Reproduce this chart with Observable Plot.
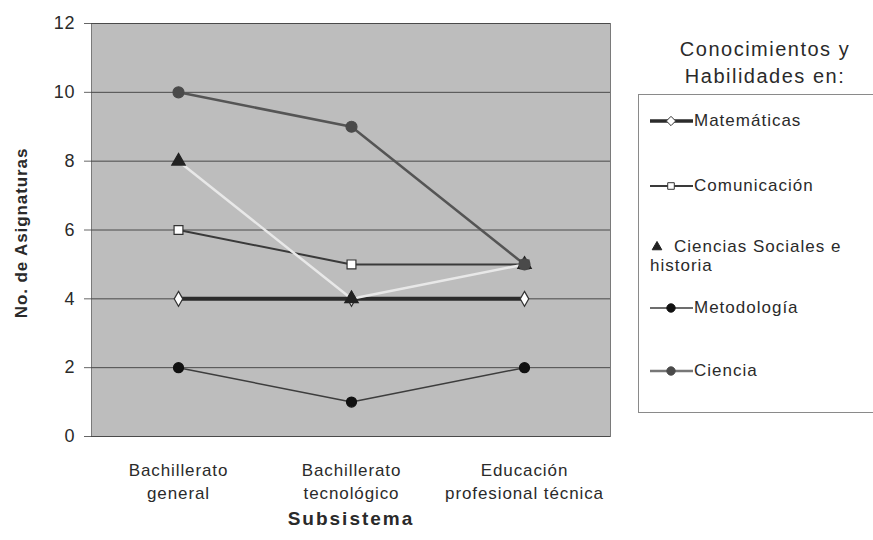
<!DOCTYPE html>
<html>
<head>
<meta charset="utf-8">
<script src="https://cdn.jsdelivr.net/npm/d3@7"></script>
<script src="https://cdn.jsdelivr.net/npm/@observablehq/plot@0.6"></script>
<style>
  html, body { margin: 0; padding: 0; background: #ffffff; }
  #wrap { position: relative; width: 873px; height: 540px; overflow: hidden; font-family: "Liberation Sans", Arial, sans-serif; color: #2a2a2a; }
  #chart svg text { letter-spacing: 0.9px; }
  #legend-title { position: absolute; left: 650px; top: 36px; width: 230px; text-align: center; font-size: 20px; line-height: 27px; letter-spacing: 1.5px; }
  #legend { position: absolute; left: 638px; top: 94px; width: 260px; height: 319px; border: 1px solid #8a8a8a; box-sizing: border-box; }
  .item { position: absolute; left: 11px; display: flex; align-items: center; font-size: 17px; line-height: 20px; letter-spacing: 1px; white-space: nowrap; }
  .item svg { flex: none; margin-right: 1px; }
</style>
</head>
<body>
<div id="wrap">
  <div id="chart"></div>
  <div id="legend-title">Conocimientos y<br>Habilidades en:</div>
  <div id="legend"></div>
</div>
<script>
const categories = ["Bachillerato\ngeneral", "Bachillerato\ntecnológico", "Educación\nprofesional técnica"];
const seriesNames = ["Matemáticas", "Comunicación", "Ciencias Sociales e historia", "Metodología", "Ciencia"];
const matematicas = [4, 4, 4];
const comunicacion = [6, 5, 5];
const cienciasSociales = [8, 4, 5];
const metodologia = [2, 1, 2];
const ciencia = [10, 9, 5];
const yTicks = [0, 2, 4, 6, 8, 10, 12];

const seriesValues = [matematicas, comunicacion, cienciasSociales, metodologia, ciencia];
const styles = [
  {line: "#2b2b2b", width: 4,   symbol: "diamond",  fill: "#ffffff", stroke: "#333333", r: 4.5},
  {line: "#3a3a3a", width: 2,   symbol: "square",   fill: "#ffffff", stroke: "#333333", r: 5},
  {line: "#e8e8e8", width: 2.5, symbol: "triangle", fill: "#222222", stroke: "#222222", r: 5},
  {line: "#3d3d3d", width: 1.5, symbol: "circle",   fill: "#111111", stroke: "#111111", r: 5},
  {line: "#555555", width: 2.5, symbol: "circle",   fill: "#4a4a4a", stroke: "#4a4a4a", r: 5.5}
];

const data = seriesNames.map((s, i) => categories.map((c, j) => ({series: s, cat: c, value: seriesValues[i][j]})));

const lineMarks = data.map((d, i) => Plot.line(d, {x: "cat", y: "value", stroke: styles[i].line, strokeWidth: styles[i].width}));
const dotMarks = data.map((d, i) => Plot.dot(d, {x: "cat", y: "value", symbol: () => styles[i].symbol, fill: styles[i].fill, stroke: styles[i].stroke, strokeWidth: 1.2, r: styles[i].r}));

const chart = Plot.plot({
  width: 873,
  height: 540,
  marginLeft: 91,
  marginRight: 263,
  marginTop: 23,
  marginBottom: 104,
  x: {domain: categories, type: "point", padding: 0.5, label: null},
  y: {domain: [0, 12], label: null},
  symbol: {type: "identity"},
  style: {fontFamily: "'Liberation Sans', Arial, sans-serif", fontSize: "17px", color: "#2a2a2a", background: "#ffffff"},
  marks: [
    Plot.frame({fill: "#bdbdbd", stroke: "#7a7a7a"}),
    Plot.gridY(yTicks, {stroke: "#4a4a4a", strokeOpacity: 1, strokeWidth: 1}),
    Plot.axisY(yTicks, {tickSize: 7, tickPadding: 9, fontSize: 18, stroke: "#666", label: null}),
    Plot.axisX({tickSize: 0, tickPadding: 23, fontSize: 17, lineHeight: 1.35, label: null}),
    ...lineMarks,
    ...dotMarks,
    Plot.text(["No. de Asignaturas"], {frameAnchor: "left", dx: -70, dy: 3, rotate: -90, textAnchor: "middle", lineAnchor: "middle", fontWeight: "bold", fontSize: 17}),
    Plot.text(["Subsistema"], {frameAnchor: "bottom", dy: 82, lineAnchor: "middle", fontWeight: "bold", fontSize: 19})
  ]
});
document.getElementById("chart").appendChild(chart);
d3.select(chart).selectAll("text").filter(function() { return this.textContent === "Subsistema"; }).style("letter-spacing", "2px");

// Legend
const legend = document.getElementById("legend");
const itemCenters = [26, 91, 162, 213, 276];
const ns = "http://www.w3.org/2000/svg";
seriesNames.forEach((name, i) => {
  const st = styles[i];
  const item = document.createElement("div");
  item.className = "item";
  const svg = document.createElementNS(ns, "svg");
  svg.setAttribute("width", 43);
  svg.setAttribute("height", 20);
  if (i !== 2) {
    const l = document.createElementNS(ns, "line");
    l.setAttribute("x1", 0); l.setAttribute("x2", 43); l.setAttribute("y1", 10); l.setAttribute("y2", 10);
    l.setAttribute("stroke", i === 4 ? "#777" : st.line);
    l.setAttribute("stroke-width", Math.min(st.width, 3.5));
    svg.appendChild(l);
  }
  const sym = d3.symbol().type({diamond: d3.symbolDiamond2, square: d3.symbolSquare2, triangle: d3.symbolTriangle, circle: d3.symbolCircle}[st.symbol]).size(st.symbol === "triangle" ? 40 : 55);
  const p = document.createElementNS(ns, "path");
  p.setAttribute("d", sym());
  p.setAttribute("transform", i === 2 ? "translate(7,10)" : "translate(21,10)");
  p.setAttribute("fill", st.fill);
  p.setAttribute("stroke", st.stroke);
  svg.appendChild(p);
  if (i === 2) {
    svg.setAttribute("width", 20);
    item.style.alignItems = "flex-start";
    item.appendChild(svg);
    const t = document.createElement("div");
    t.innerHTML = "<div style='padding-left:3px'>Ciencias Sociales e</div><div style='margin-left:-21px'>historia</div>";
    item.appendChild(t);
    item.style.top = (itemCenters[i] - 20) + "px";
    item.style.lineHeight = "19px";
  } else {
    item.appendChild(svg);
    const t = document.createElement("span");
    t.textContent = name;
    item.appendChild(t);
    item.style.top = (itemCenters[i] - 10) + "px";
  }
  legend.appendChild(item);
});
</script>
</body>
</html>
